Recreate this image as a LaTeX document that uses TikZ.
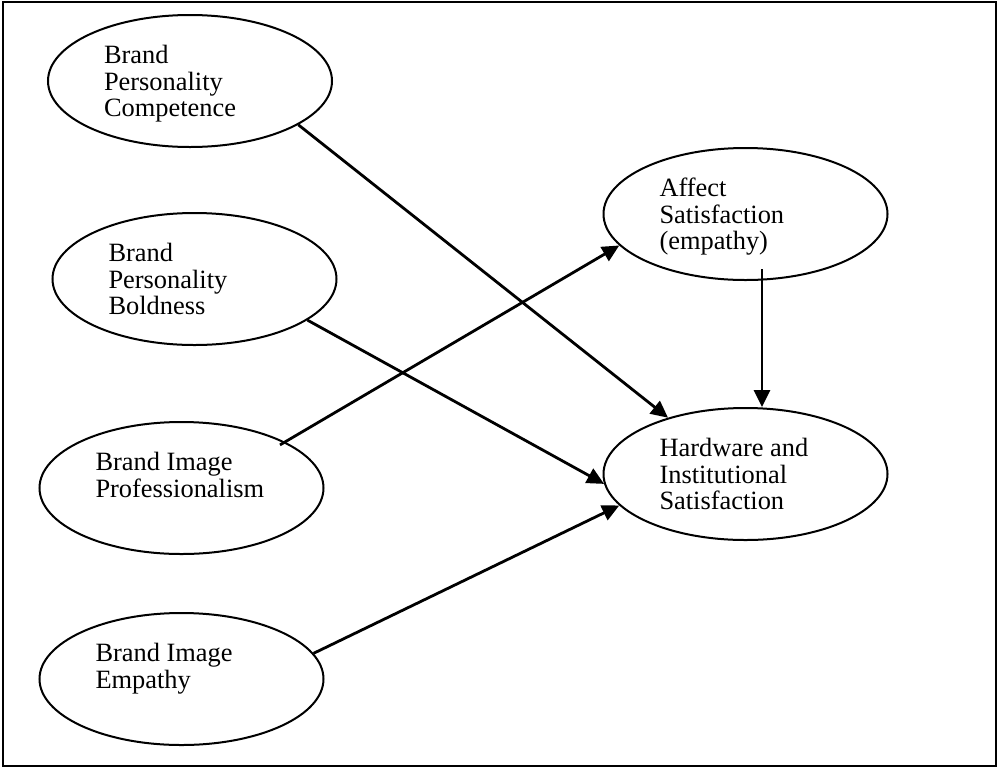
\documentclass[tikz,border=0pt]{standalone}
\usepackage{fontspec}
\setmainfont{Liberation Serif}
\usetikzlibrary{shapes.geometric,arrows.meta}
% text block sits at the top of each oval, left aligned
\newcommand{\ovaltext}[1]{\parbox[c][72pt][t]{172pt}{\raggedright\strut #1}}
\begin{document}
\begin{tikzpicture}[x=1pt, y=-1pt,
       oval/.style={draw, ellipse, line width=2pt,
             minimum width=284pt, minimum height=132pt, inner sep=0pt,
             font=\fontsize{26.4pt}{26.6pt}\selectfont},
       link/.style={line width=2.8pt, -{Triangle[length=17pt,width=16pt]}}]
\useasboundingbox (0,0) rectangle (998,769);
\draw[line width=1.8pt] (3,2) rectangle (996,766);
% predictors
\node[oval] (comp) at (190,81)    {\ovaltext{Brand\\Personality\\Competence}};
\node[oval] (bold) at (194.5,279) {\ovaltext{Brand\\Personality\\Boldness}};
\node[oval] (prof) at (181.5,488) {\ovaltext{Brand Image\\Professionalism}};
\node[oval] (emp)  at (181.5,679) {\ovaltext{Brand Image\\Empathy}};
% outcomes
\node[oval] (aff)  at (745.5,214) {\ovaltext{Affect\\Satisfaction\\(empathy)}};
\node[oval] (hard) at (745.5,474) {\ovaltext{Hardware and\\Institutional\\Satisfaction}};
% paths
\draw[link] (comp.-22.7) -- (hard.144.6);
\draw[link] (bold.-20.4) -- (hard.184);
\draw[link, shorten <=-6pt] (prof.24.2) -- (aff.194.8);
\draw[link] (emp.11.2) -- (hard.194.3);
\draw[link] ([xshift=16.5pt,yshift=12pt]aff.south) -- ([xshift=16.5pt]hard.north);
\end{tikzpicture}
\end{document}
